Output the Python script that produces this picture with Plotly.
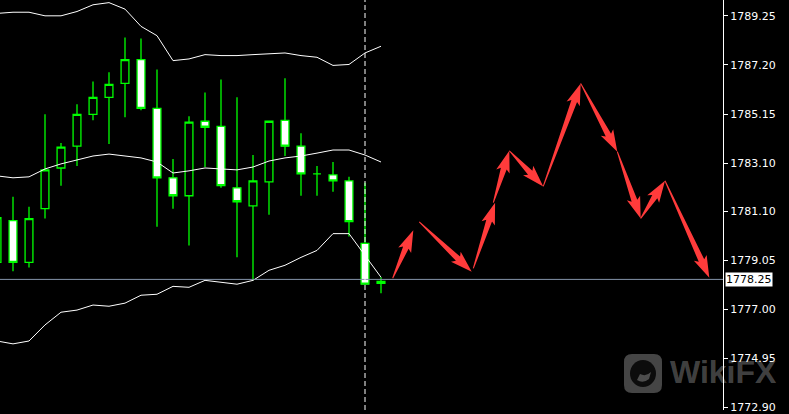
import math
import plotly.graph_objects as go

# bars (index 0 is partly cut off at the left edge)
bars = list(range(25))
opens = [1778.96, 1780.70, 1778.96, 1781.20, 1782.90, 1783.81, 1785.14, 1785.85, 1786.43,
         1787.42, 1785.39, 1782.49, 1781.74, 1784.85, 1784.64, 1782.07, 1781.32, 1782.32,
         1784.89, 1783.81, 1782.65, 1782.61, 1782.36, 1779.75, 1778.09]
highs = [1780.99, 1781.70, 1781.28, 1785.14, 1783.94, 1785.56, 1786.51, 1786.89, 1788.34,
         1788.30, 1787.01, 1783.27, 1785.06, 1786.05, 1786.59, 1785.85, 1783.44, 1784.85,
         1786.64, 1784.35, 1782.98, 1783.15, 1782.53, 1782.28, 1778.34]
lows = [1778.79, 1778.59, 1778.75, 1780.79, 1782.16, 1782.98, 1784.89, 1783.90, 1785.02,
        1785.31, 1780.45, 1781.20, 1779.67, 1782.94, 1782.07, 1779.17, 1778.21, 1780.95,
        1783.40, 1781.74, 1781.74, 1781.91, 1780.04, 1778.05, 1777.67]
closes = [1780.83, 1778.96, 1780.79, 1782.82, 1783.77, 1785.14, 1785.85, 1786.39, 1787.42,
          1785.39, 1782.49, 1781.74, 1784.81, 1784.60, 1782.16, 1781.49, 1782.36, 1784.85,
          1783.81, 1782.65, 1782.65, 1782.36, 1780.66, 1778.05, 1778.17]

# Bollinger bands
bb_upper = [1789.35, 1789.40, 1789.40, 1789.25, 1789.25, 1789.43, 1789.71, 1789.80, 1789.53,
            1788.81, 1788.42, 1787.38, 1787.45, 1787.63, 1787.59, 1787.59, 1787.63, 1787.67,
            1787.70, 1787.59, 1787.52, 1787.18, 1787.22, 1787.70, 1787.98]
bb_middle = [1782.57, 1782.49, 1782.53, 1782.86, 1783.07, 1783.23, 1783.40, 1783.48, 1783.40,
             1783.32, 1783.15, 1782.69, 1782.78, 1782.90, 1782.86, 1782.82, 1782.94, 1783.19,
             1783.32, 1783.40, 1783.52, 1783.65, 1783.65, 1783.44, 1783.15]
bb_lower = [1775.68, 1775.56, 1775.68, 1776.35, 1776.88, 1776.97, 1777.18, 1777.13, 1777.26,
            1777.59, 1777.63, 1777.96, 1777.92, 1778.21, 1778.13, 1778.05, 1778.21, 1778.63,
            1778.84, 1779.17, 1779.46, 1780.16, 1780.16, 1779.25, 1778.34]

# forecast arrows, tail (x0, y0) -> tip (x1, y1), in bars / price
arrow_x0 = [24.73, 26.39, 29.77, 31.02, 32.02, 34.14, 36.48, 38.77, 40.23, 41.75]
arrow_y0 = [1778.30, 1780.65, 1778.71, 1781.45, 1783.62, 1782.13, 1786.43, 1783.58, 1780.79, 1782.37]
arrow_x1 = [26.02, 29.67, 31.13, 32.02, 34.14, 36.48, 38.77, 40.23, 41.75, 44.52]
arrow_y1 = [1780.30, 1778.57, 1781.45, 1783.62, 1782.13, 1786.43, 1783.58, 1780.79, 1782.37, 1778.32]

tick_vals = [1789.25, 1787.20, 1785.15, 1783.10, 1781.10, 1779.05, 1777.00, 1774.95, 1772.90]
tick_text = ['%.2f' % v for v in tick_vals]
current_price = 1778.25
separator_bar = 23

W, H = 789, 414
R_MARGIN = 66
x_range = [0.1875, 45.375]
y_range = [1772.80, 1789.91]

# pixel scale, used only to give the arrows a tapered shape
sx = (W - R_MARGIN) / (x_range[1] - x_range[0])
sy = H / (y_range[1] - y_range[0])


def arrow_poly(x0, y0, x1, y1, head_len=19, head_w=7.0, neck_w=3.0, tail_w=0.5):
    ax, ay = x0 * sx, y0 * sy
    bx, by = x1 * sx, y1 * sy
    dx, dy = bx - ax, by - ay
    L = math.hypot(dx, dy)
    ux, uy = dx / L, dy / L
    nx, ny = -uy, ux
    hl = min(head_len, 0.45 * L)
    cx, cy = bx - ux * hl, by - uy * hl
    pts = [
        (ax + nx * tail_w, ay + ny * tail_w),
        (cx + nx * neck_w, cy + ny * neck_w),
        (cx + nx * head_w - ux * 3, cy + ny * head_w - uy * 3),
        (bx, by),
        (cx - nx * head_w - ux * 3, cy - ny * head_w - uy * 3),
        (cx - nx * neck_w, cy - ny * neck_w),
        (ax - nx * tail_w, ay - ny * tail_w),
    ]
    pts.append(pts[0])
    return [p[0] / sx for p in pts], [p[1] / sy for p in pts]


fig = go.Figure()

for band in (bb_upper, bb_middle, bb_lower):
    fig.add_trace(go.Scatter(x=bars, y=band, mode='lines',
                             line=dict(color='white', width=1), hoverinfo='skip'))

fig.add_trace(go.Candlestick(
    x=bars, open=opens, high=highs, low=lows, close=closes,
    increasing=dict(line=dict(color='#00ff00', width=1.3), fillcolor='black'),
    decreasing=dict(line=dict(color='#00ff00', width=1.3), fillcolor='white'),
    whiskerwidth=0,
))

for i in range(len(arrow_x0)):
    px, py = arrow_poly(arrow_x0[i], arrow_y0[i], arrow_x1[i], arrow_y1[i])
    fig.add_trace(go.Scatter(x=px, y=py, mode='lines', fill='toself',
                             fillcolor='#ff3b3b', line=dict(width=0, color='#ff3b3b'),
                             hoverinfo='skip'))

fig.add_hline(y=current_price, line=dict(color='#8494aa', width=1))
fig.add_vline(x=separator_bar, line=dict(color='white', width=1, dash='5px,3px'))

# current price label on the axis
fig.add_annotation(xref='paper', x=1, xanchor='left', xshift=2,
                   yref='y', y=current_price, yanchor='middle',
                   text='%.2f' % current_price, showarrow=False,
                   bgcolor='white', borderpad=0,
                   font=dict(family='DejaVu Sans', size=11, color='black'))

# WikiFX watermark
fig.add_annotation(xref='paper', x=668 / (W - R_MARGIN), xanchor='left',
                   yref='paper', y=38 / H, yanchor='middle',
                   text='<b>WikiFX</b>', showarrow=False,
                   font=dict(family='Liberation Sans', size=32, color='rgba(255,255,255,0.27)'))
fig.add_shape(type='path', xref='paper', yref='paper', xsizemode='pixel', ysizemode='pixel',
              xanchor=1, yanchor=0,
              path='M -91,17 L -69,17 Q -61,17 -61,25 L -61,48 Q -61,56 -69,56 L -91,56 '
                   'Q -99,56 -99,48 L -99,25 Q -99,17 -91,17 Z',
              fillcolor='rgba(255,255,255,0.27)', line=dict(width=0))
fig.add_shape(type='circle', xref='paper', yref='paper', xsizemode='pixel', ysizemode='pixel',
              xanchor=1, yanchor=0, x0=-93, x1=-67, y0=23, y1=50,
              fillcolor='#0c0c0c', line=dict(width=0))
fig.add_shape(type='path', xref='paper', yref='paper', xsizemode='pixel', ysizemode='pixel',
              xanchor=1, yanchor=0,
              path='M -86,30 Q -80,26 -74,31 L -72,38 Q -77,33 -83,36 Z',
              fillcolor='rgba(255,255,255,0.27)', line=dict(width=0))

fig.update_layout(
    width=W, height=H,
    margin=dict(l=0, r=R_MARGIN, t=0, b=0),
    paper_bgcolor='black', plot_bgcolor='black',
    showlegend=False,
    xaxis=dict(range=x_range, visible=False, rangeslider=dict(visible=False),
               showgrid=False, zeroline=False),
    yaxis=dict(range=y_range, side='right', tickvals=tick_vals, ticktext=tick_text,
               showgrid=False, zeroline=False, showline=True, linecolor='white', linewidth=1,
               ticks='outside', ticklen=4, tickcolor='white', ticklabeloverflow='allow',
               tickfont=dict(family='DejaVu Sans', size=11, color='white')),
)

fig.write_html("out.html", config={'displayModeBar': False},
               post_script="document.body.style.margin='0';document.body.style.background='black';"
                           "document.body.style.overflow='hidden';")
